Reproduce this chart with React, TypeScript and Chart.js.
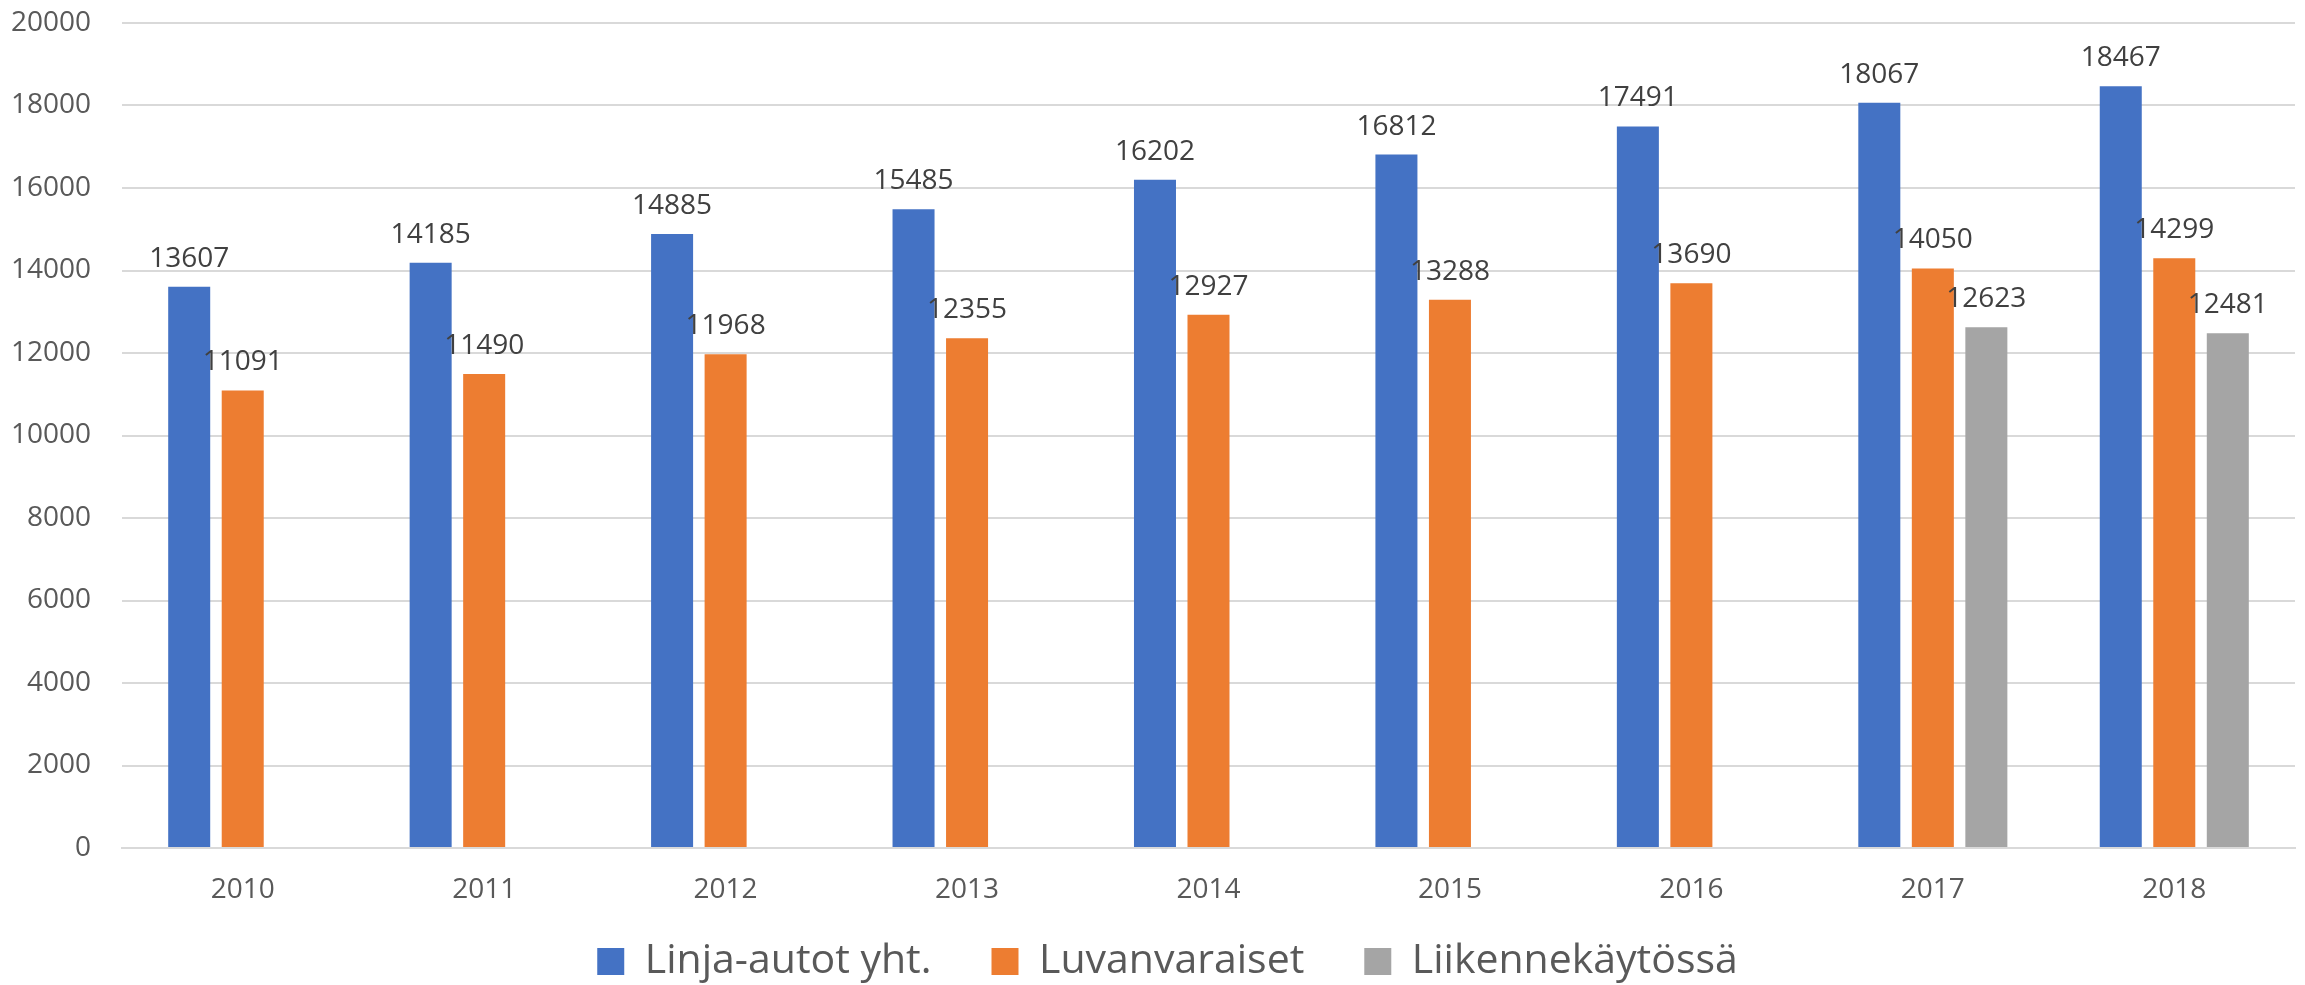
import React, { useEffect, useRef } from "react";
import { Chart, registerables } from "chart.js";

Chart.register(...registerables);

const years = ["2010", "2011", "2012", "2013", "2014", "2015", "2016", "2017", "2018"];
const linjaAutot = [13607, 14185, 14885, 15485, 16202, 16812, 17491, 18067, 18467];
const luvanvaraiset = [11091, 11490, 11968, 12355, 12927, 13288, 13690, 14050, 14299];
const liikennekaytossa = [null, null, null, null, null, null, null, 12623, 12481];
const seriesNames = ["Linja-autot yht.", "Luvanvaraiset", "Liikennekäytössä"];
const seriesColors = ["#4472C4", "#ED7D31", "#A5A5A5"];
const yMin = 0;
const yMax = 20000;
const yStep = 2000;

const FONT = "'Open Sans', 'Noto Sans', sans-serif";
const LEGEND_PADDING = 60;

const dataLabelPlugin = {
  id: "dataLabels",
  afterDatasetsDraw(chart: any) {
    const ctx = chart.ctx;
    ctx.save();
    ctx.font = `28px ${FONT}`;
    ctx.fillStyle = "#404040";
    ctx.textAlign = "center";
    ctx.textBaseline = "alphabetic";
    chart.data.datasets.forEach((ds: any, i: number) => {
      const meta = chart.getDatasetMeta(i);
      if (meta.hidden) return;
      meta.data.forEach((el: any, j: number) => {
        const v = ds.data[j];
        if (v === null || v === undefined) return;
        ctx.fillText(String(v), el.x, el.y - 20);
      });
    });
    ctx.restore();
  },
};

// place the legend row like the original (centred a little right of the page centre, near the bottom)
const legendPlacePlugin = {
  id: "legendPlace",
  afterLayout(chart: any) {
    const lg = chart.legend;
    if (!lg) return;
    lg.top = 941 - LEGEND_PADDING;
    lg.bottom = chart.height;
    lg.left = lg.left + 20;
    lg.right = lg.right + 20;
  },
};

export default function App() {
  const canvasRef = useRef<HTMLCanvasElement | null>(null);

  useEffect(() => {
    document.body.style.margin = "0";
    const canvas = canvasRef.current;
    if (!canvas) return;
    const chart = new Chart(canvas, {
      type: "bar",
      data: {
        labels: years,
        datasets: [
          { label: seriesNames[0], data: linjaAutot, backgroundColor: seriesColors[0], borderWidth: 0 },
          { label: seriesNames[1], data: luvanvaraiset, backgroundColor: seriesColors[1], borderWidth: 0 },
          { label: seriesNames[2], data: liikennekaytossa as any, backgroundColor: seriesColors[2], borderWidth: 0 },
        ],
      },
      options: {
        responsive: false,
        animation: false,
        devicePixelRatio: 1,
        datasets: {
          bar: { categoryPercentage: 0.665, barPercentage: 0.785 },
        },
        layout: { padding: { top: 23, right: 10, bottom: 0, left: 0 } },
        plugins: {
          tooltip: { enabled: false },
          title: { display: false },
          legend: {
            display: true,
            position: "bottom",
            maxHeight: 73,
            labels: {
              boxWidth: 27,
              boxHeight: 27,
              padding: LEGEND_PADDING,
              color: "#595959",
              font: { family: FONT, size: 41 },
            },
          },
        },
        scales: {
          x: {
            grid: { display: false, drawTicks: false },
            border: { display: true, color: "#d9d9d9", width: 2 },
            ticks: { color: "#595959", font: { family: FONT, size: 28 }, padding: 25, maxRotation: 0 },
            afterFit: (scale: any) => {
              scale.height = 64;
            },
          },
          y: {
            min: yMin,
            max: yMax,
            grid: { color: "#d9d9d9", lineWidth: 2, drawTicks: false },
            border: { display: false },
            ticks: {
              stepSize: yStep,
              color: "#595959",
              font: { family: FONT, size: 28 },
              padding: 31,
              callback: (v: any) => String(v),
            },
            afterFit: (scale: any) => {
              scale.width = 122;
              scale.paddingTop = 0;
              scale.paddingBottom = 0;
            },
          },
        },
      } as any,
      plugins: [dataLabelPlugin, legendPlacePlugin],
    });
    return () => chart.destroy();
  }, []);

  return (
    <div style={{ width: 2305, height: 985 }}>
      <canvas ref={canvasRef} width={2305} height={985} style={{ display: "block" }} />
    </div>
  );
}
